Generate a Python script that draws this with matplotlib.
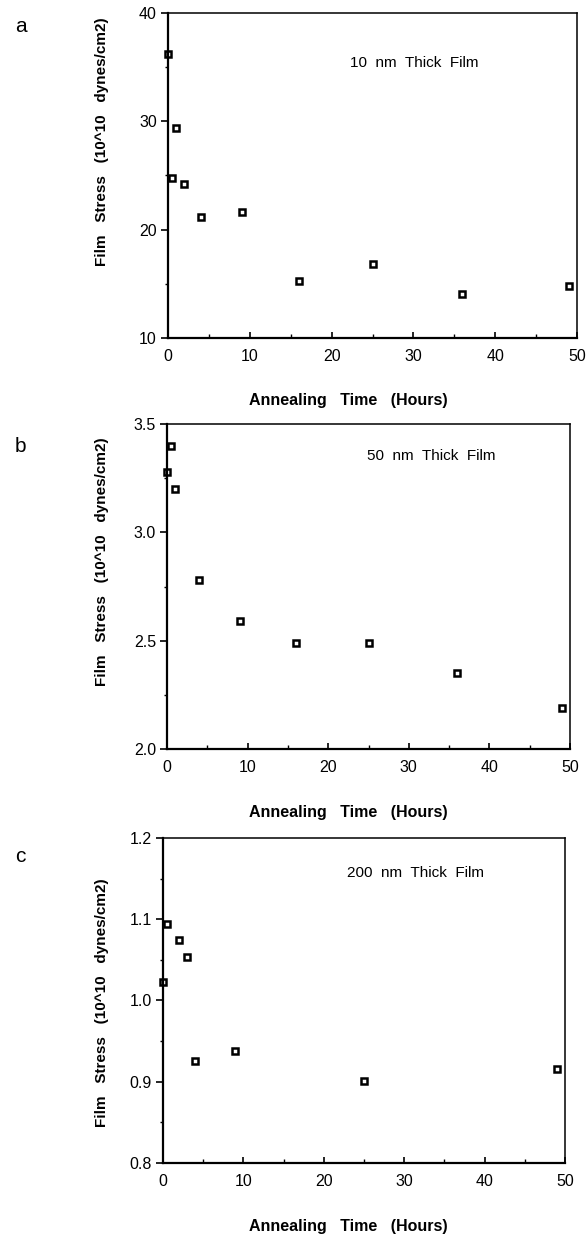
import matplotlib
matplotlib.use("Agg")
import matplotlib.pyplot as plt
from matplotlib.ticker import MultipleLocator

plt.rcParams['font.family'] = ['Liberation Sans', 'DejaVu Sans']

# annealing time (hours) and film stress (10^10 dynes/cm2)
time_10nm = [0, 0.5, 1, 2, 4, 9, 16, 25, 36, 49]
stress_10nm = [36.2, 24.8, 29.4, 24.2, 21.2, 21.6, 15.3, 16.8, 14.1, 14.8]

time_50nm = [0, 0.5, 1, 4, 9, 16, 25, 36, 49]
stress_50nm = [3.28, 3.40, 3.20, 2.78, 2.59, 2.49, 2.49, 2.35, 2.19]

time_200nm = [0, 0.5, 2, 3, 4, 9, 25, 49]
stress_200nm = [1.023, 1.094, 1.074, 1.054, 0.926, 0.938, 0.901, 0.916]

W, H = 588, 1239
fig = plt.figure(figsize=(W / 100, H / 100), dpi=100)


def px_axes(left, right, top, bottom):
    return fig.add_axes([left / W, 1 - bottom / H, (right - left) / W, (bottom - top) / H])


panels = [
    # x, y, ylim, ymajor, title, axes box, title pos, letter y, xlabel y, ylabel center y
    (time_10nm, stress_10nm, (10, 40), 10, '10  nm  Thick  Film',
     (168, 577, 13, 338), (350, 63), 27, 400, 142, '%d'),
    (time_50nm, stress_50nm, (2.0, 3.5), 0.5, '50  nm  Thick  Film',
     (167, 570, 424, 749), (367, 456), 447, 812, 562, '%.1f'),
    (time_200nm, stress_200nm, (0.8, 1.2), 0.1, '200  nm  Thick  Film',
     (163, 565, 838, 1163), (347, 873), 857, 1227, 1003, '%.1f'),
]

for letter, p in zip('abc', panels):
    t, s, ylim, ymaj, title, box, tpos, ly, xly, yly, fmt = p
    ax = px_axes(*box)
    ax.plot(t, s, linestyle='none', marker='s', ms=5, mfc='white',
            mec='black', mew=1.8, clip_on=False)
    ax.set_xlim(0, 50)
    ax.set_ylim(*ylim)
    ax.xaxis.set_major_locator(MultipleLocator(10))
    ax.xaxis.set_minor_locator(MultipleLocator(5))
    ax.yaxis.set_major_locator(MultipleLocator(ymaj))
    ax.yaxis.set_minor_locator(MultipleLocator(ymaj / 2))
    ax.yaxis.set_major_formatter(plt.FormatStrFormatter(fmt))
    ax.tick_params(axis='x', which='major', direction='in', length=4, width=1.2,
                   labelsize=11.5, pad=8)
    ax.tick_params(axis='x', which='minor', direction='in', length=3, width=1)
    ax.tick_params(axis='y', which='major', direction='out', length=5, width=1.2,
                   labelsize=11.5, pad=3)
    ax.tick_params(axis='y', which='minor', direction='out', length=2, width=1)
    for side in ['left', 'bottom']:
        ax.spines[side].set_linewidth(1.6)
    for side in ['right', 'top']:
        ax.spines[side].set_linewidth(1.1)

    fig.text(tpos[0] / W, 1 - tpos[1] / H, title, fontsize=11,
             ha='left', va='center')
    fig.text(15 / W, 1 - ly / H, letter, fontsize=15, ha='left', va='center')
    fig.text(348 / W, 1 - xly / H, 'Annealing   Time   (Hours)', fontsize=11.5,
             fontweight='bold', ha='center', va='center')
    fig.text(102 / W, 1 - yly / H, 'Film   Stress   (10^10   dynes/cm2)',
             fontsize=11, fontweight='bold', rotation=90,
             ha='center', va='center')

fig.savefig('out.png', dpi=100)
